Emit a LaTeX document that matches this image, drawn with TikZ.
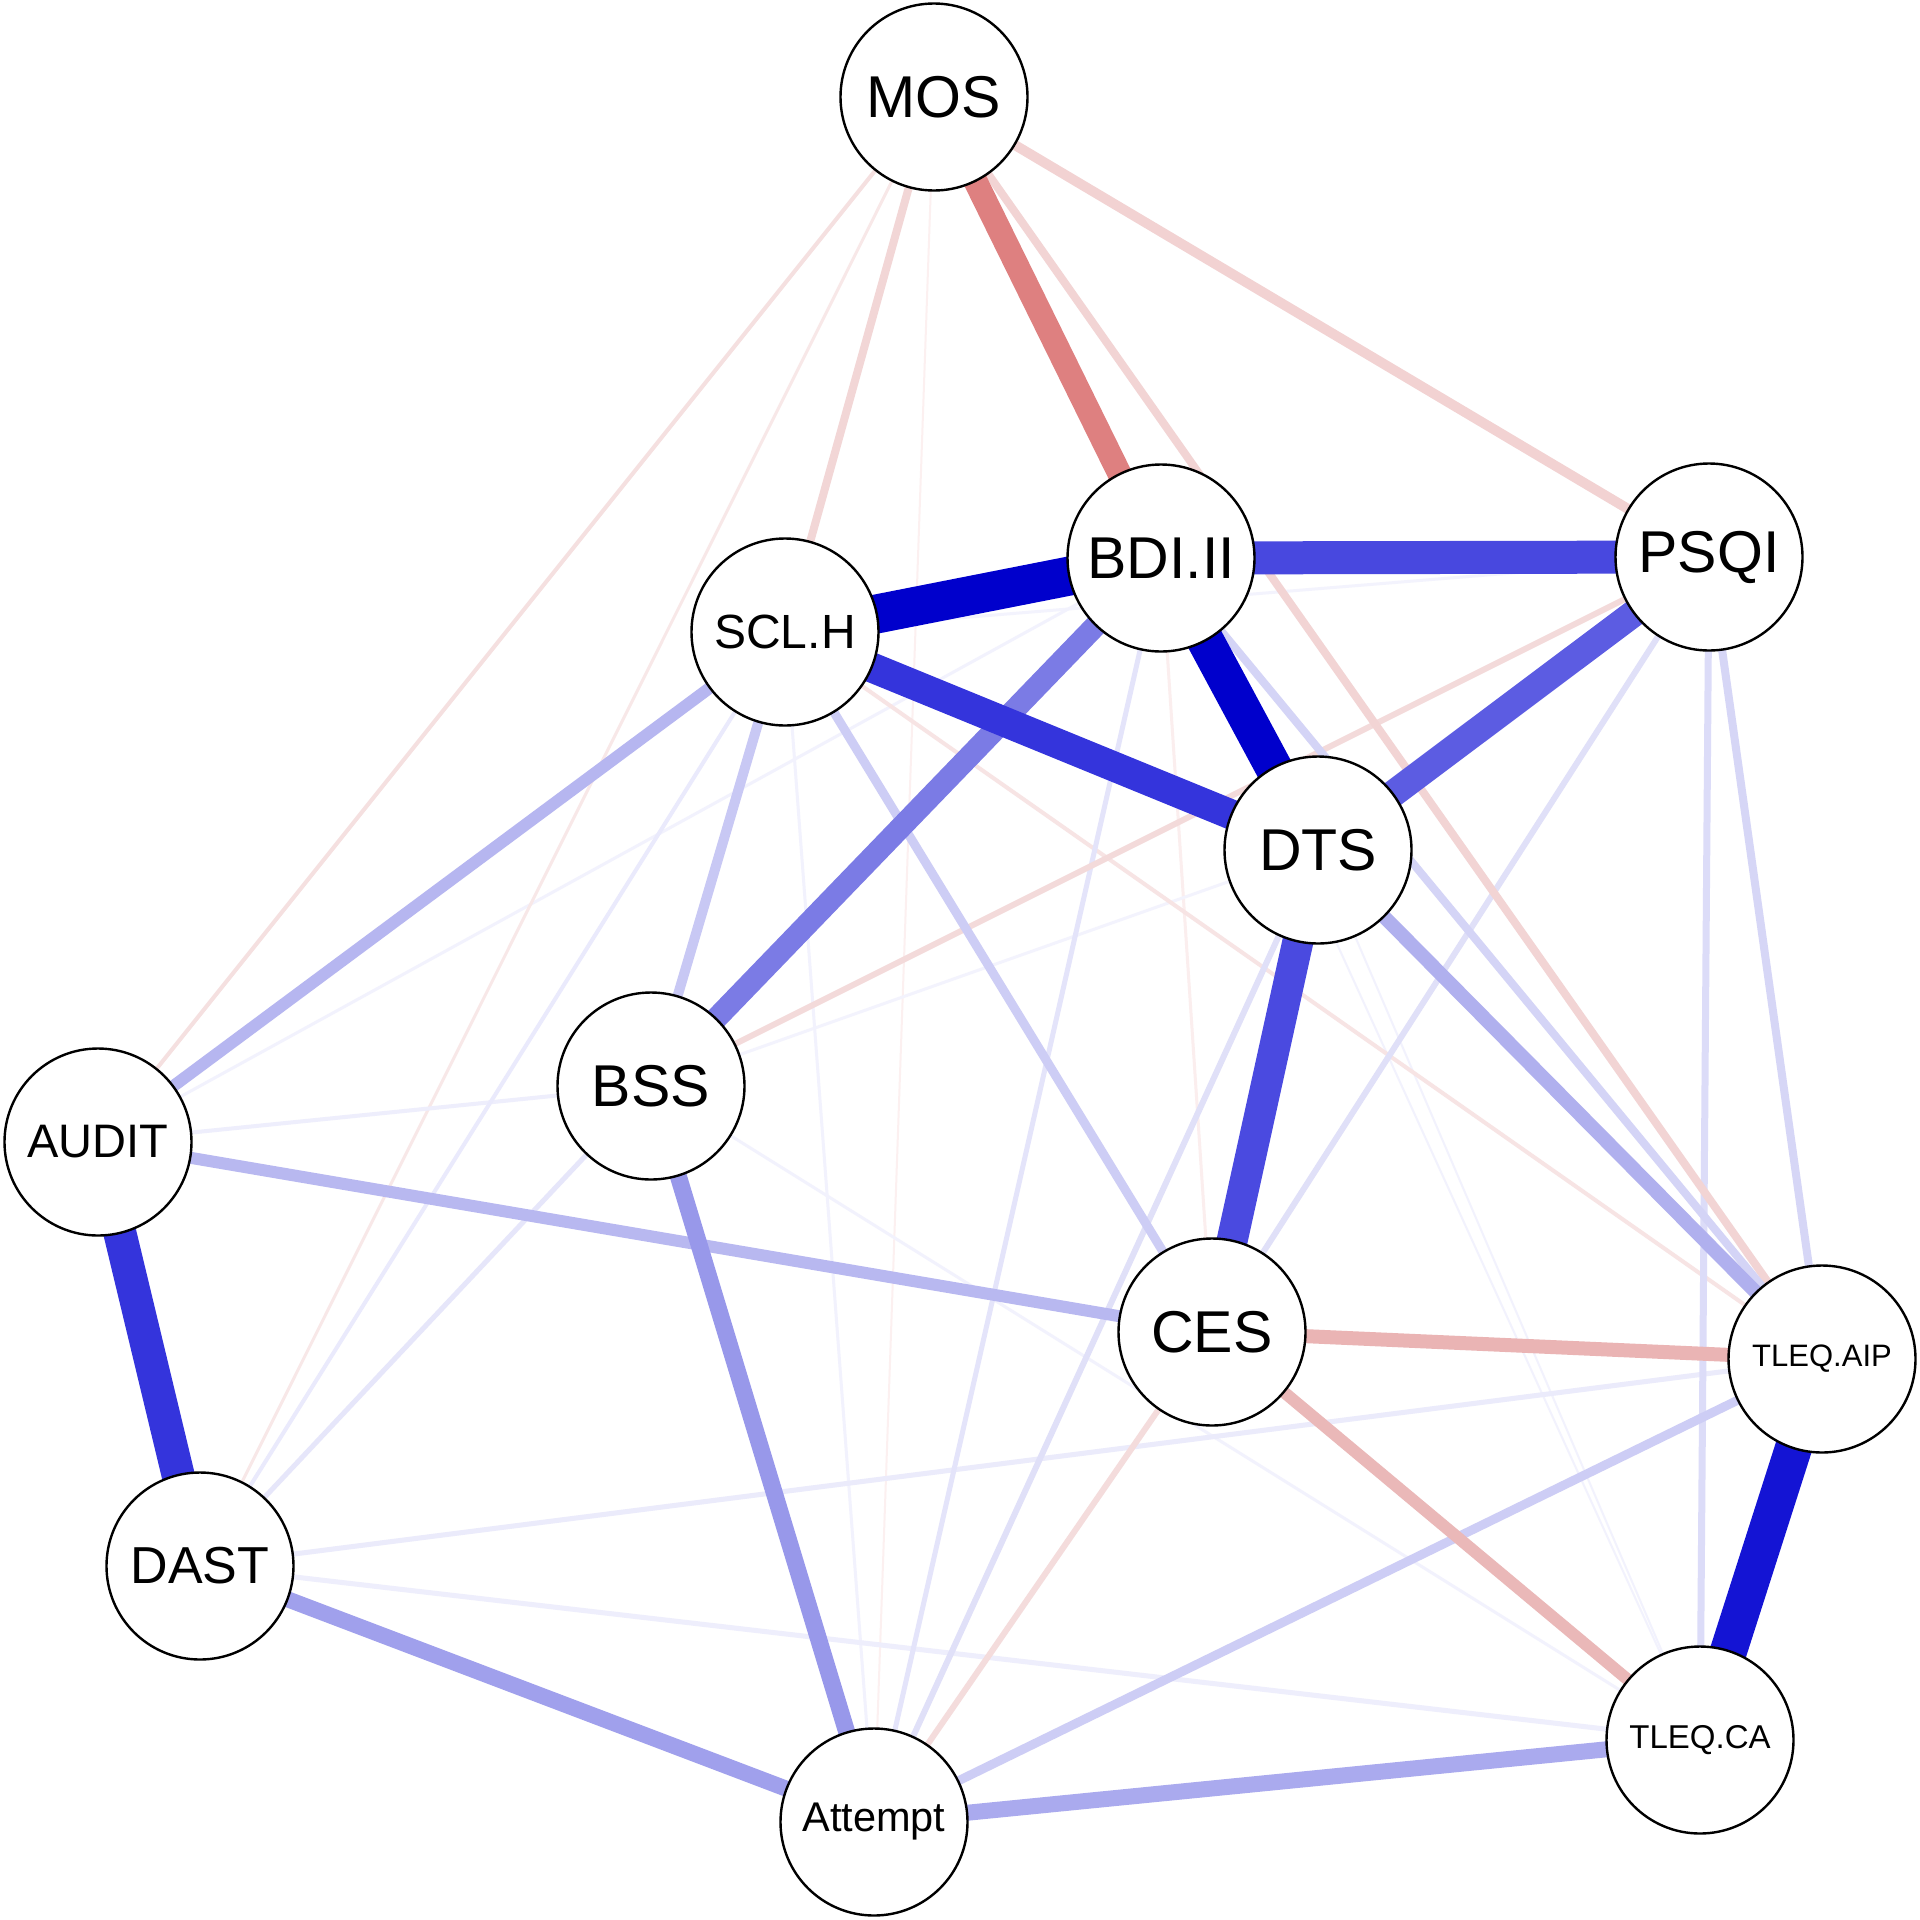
\documentclass[tikz,border=0pt]{standalone}
\usepackage{fontspec}
\setmainfont{Liberation Sans}
\usetikzlibrary{backgrounds}
% edge colours
\definecolor{ea}{HTML}{FCF0F0}
\definecolor{eb}{HTML}{FBEEEE}
\definecolor{ec}{HTML}{F3F3FD}
\definecolor{ed}{HTML}{F2F2FD}
\definecolor{ee}{HTML}{F8E8E8}
\definecolor{ef}{HTML}{EEEEFC}
\definecolor{eg}{HTML}{EBEBFB}
\definecolor{eh}{HTML}{EAEAFC}
\definecolor{ei}{HTML}{F7E4E4}
\definecolor{ej}{HTML}{F5E0E0}
\definecolor{ek}{HTML}{E6E6FA}
\definecolor{el}{HTML}{E4E4FA}
\definecolor{em}{HTML}{E0E0F8}
\definecolor{en}{HTML}{F4DCDC}
\definecolor{eo}{HTML}{F3DADA}
\definecolor{ep}{HTML}{DCDCF8}
\definecolor{eq}{HTML}{D6D6F6}
\definecolor{er}{HTML}{F2D6D6}
\definecolor{es}{HTML}{F2D4D4}
\definecolor{et}{HTML}{D4D4F6}
\definecolor{eu}{HTML}{F2D2D2}
\definecolor{ev}{HTML}{CDCDF5}
\definecolor{ew}{HTML}{C8C8F4}
\definecolor{ex}{HTML}{B6B6F0}
\definecolor{ey}{HTML}{B8B8F0}
\definecolor{ez}{HTML}{EAB8B8}
\definecolor{fa}{HTML}{EAB4B4}
\definecolor{fb}{HTML}{B0B0EE}
\definecolor{fc}{HTML}{AAAAEE}
\definecolor{fd}{HTML}{A0A0EC}
\definecolor{fe}{HTML}{9898EA}
\definecolor{ff}{HTML}{7B7BE5}
\definecolor{fg}{HTML}{DE8080}
\definecolor{fh}{HTML}{5C5CE2}
\definecolor{fi}{HTML}{4A4AE0}
\definecolor{fj}{HTML}{4848DF}
\definecolor{fk}{HTML}{3434DC}
\definecolor{fl}{HTML}{1414D4}
\definecolor{fm}{HTML}{0000CC}
\begin{document}
\begin{tikzpicture}[x=1pt,y=-1pt,
  nd/.style={circle,draw=black,line width=2.4pt,fill=white,minimum size=187pt,inner sep=0pt,text=black},
  big/.style={font=\fontsize{59}{61}\selectfont},
  edg/.style n args={2}{line width=#1pt,draw=#2}]
\useasboundingbox (0,0) rectangle (1920,1920);
\node[nd,big] (mos) at (934,97) {MOS};
\node[nd,big] (bdi) at (1161,558) {BDI.II};
\node[nd,big] (psqi) at (1709,557) {PSQI};
\node[nd,font=\fontsize{48}{50}\selectfont] (scl) at (785,632) {SCL.H};
\node[nd,big] (dts) at (1318,850) {DTS};
\node[nd,big] (bss) at (651,1086) {BSS};
\node[nd,font=\fontsize{47}{49}\selectfont] (audit) at (98,1142) {AUDIT};
\node[nd,big] (ces) at (1212,1332) {CES};
\node[nd,font=\fontsize{31}{33}\selectfont] (tlaip) at (1822,1359) {TLEQ.AIP};
\node[nd,font=\fontsize{52}{54}\selectfont] (dast) at (200,1566) {DAST};
\node[nd,font=\fontsize{33}{35}\selectfont] (tlca) at (1700,1740) {TLEQ.CA};
\node[nd,font=\fontsize{41.5}{43}\selectfont] (att) at (874,1822) {Attempt};
\begin{scope}[on background layer]
\fill[white] (0,0) rectangle (1920,1920);
\foreach \a/\b/\w/\c in {
  mos/att/2/ea, bdi/ces/3/eb, scl/psqi/3/ec, bss/dts/3/ec,
  audit/bdi/3/ed, scl/att/3/ed, bss/tlca/3/ed, bdi/tlca/2/ed, dts/tlca/2/ed,
  mos/dast/3/ee, audit/bss/4/ef, dast/tlca/5/ef, dast/tlaip/5/eg,
  scl/dast/4/eh, scl/tlaip/4/ei, mos/audit/4/ej, dast/bss/5/ek,
  bdi/att/5/el, dts/att/6/em, psqi/ces/6/em, ces/att/6/en, psqi/bss/6/eo,
  psqi/tlca/7/ep, psqi/tlaip/8/eq, mos/scl/8/er, mos/tlaip/8/es,
  bdi/tlaip/8/et, mos/psqi/10/eu, scl/ces/9/ev, att/tlaip/9/ev,
  scl/bss/10/ew, scl/audit/12/ex, audit/ces/12/ey, ces/tlca/12/ez,
  ces/tlaip/14/fa, dts/tlaip/14/fb, att/tlca/16/fc, dast/att/16/fd,
  bss/att/17/fe, bdi/bss/22/ff, mos/bdi/24/fg, psqi/dts/27/fh,
  dts/ces/31/fi, bdi/psqi/33/fj, scl/dts/30/fk, audit/dast/33/fk,
  tlaip/tlca/37/fl, bdi/dts/37/fm, scl/bdi/39/fm}
  {\draw[edg={\w}{\c}] (\a.center) -- (\b.center);}
\end{scope}
\end{tikzpicture}
\end{document}
